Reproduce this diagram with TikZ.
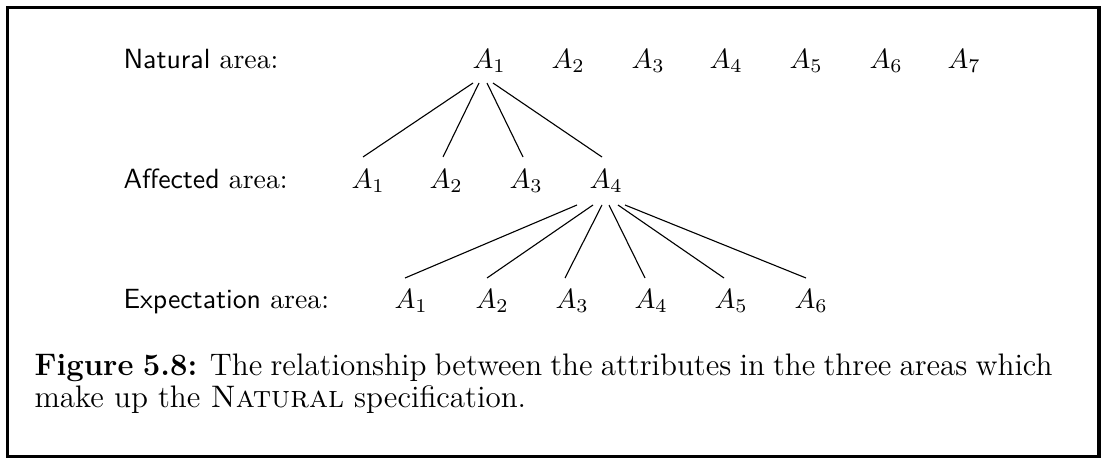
\documentclass[tikz,border=0pt]{standalone}
\begin{document}
\begin{tikzpicture}[x=0.36pt,y=-0.36pt,
  lbl/.style={anchor=base west,inner sep=0pt,font=\fontsize{10}{12}\selectfont},
  att/.style={anchor=base west,inner sep=0pt,font=\fontsize{10}{12}\selectfont},
  captext/.style={anchor=base west,inner sep=0pt,font=\fontsize{11.2}{13.5}\selectfont},
  link/.style={line width=0.4pt},
  frame/.style={line width=1.3pt}]
\useasboundingbox (0,0) rectangle (1103,461);
\draw[frame] (7.5,7.5) rectangle (1099,456.5);
% row labels
\node[lbl] (l1) at (123,68) {\textsf{Natural} area:};
\node[lbl] (l2) at (123,188) {\textsf{Affected} area:};
\node[lbl] (l3) at (123,308) {\textsf{Expectation} area:};
% row 1
\foreach \i/\x in {1/472,2/551,3/631,4/709,5/789,6/869,7/947}
  \node[att] (a\i) at (\x,68) {$A_\i$};
% row 2
\foreach \i/\x in {1/351,2/429,3/509,4/589}
  \node[att] (b\i) at (\x,188) {$A_\i$};
% row 3
\foreach \i/\x in {1/394,2/475,3/555,4/634,5/714,6/794}
  \node[att] (c\i) at (\x,308) {$A_\i$};
% links row 1 -> row 2
\draw[link] ([shift={(1,15)}]a1.base west) -- ([shift={(12,-31)}]b1.base west);
\draw[link] ([shift={(7,15)}]a1.base west) -- ([shift={(14,-31)}]b2.base west);
\draw[link] ([shift={(15,15)}]a1.base west) -- ([shift={(14,-31)}]b3.base west);
\draw[link] ([shift={(21,15)}]a1.base west) -- ([shift={(13,-31)}]b4.base west);
% links row 2 -> row 3
\draw[link] ([shift={(-12,17)}]b4.base west) -- ([shift={(11,-30)}]c1.base west);
\draw[link] ([shift={(4,17)}]b4.base west) -- ([shift={(12,-30)}]c2.base west);
\draw[link] ([shift={(13,17)}]b4.base west) -- ([shift={(10,-30)}]c3.base west);
\draw[link] ([shift={(20,17)}]b4.base west) -- ([shift={(11,-30)}]c4.base west);
\draw[link] ([shift={(29,17)}]b4.base west) -- ([shift={(10,-30)}]c5.base west);
\draw[link] ([shift={(36,17)}]b4.base west) -- ([shift={(12,-30)}]c6.base west);
% caption
\node[captext] (cap1) at (34,375) {\makebox[366.5pt][s]{\textbf{Figure 5.8:} The relationship between the attributes in the three areas which}};
\node[captext] (cap2) at (34,407) {make up the \textsc{Natural} specification.};
\end{tikzpicture}
\end{document}
